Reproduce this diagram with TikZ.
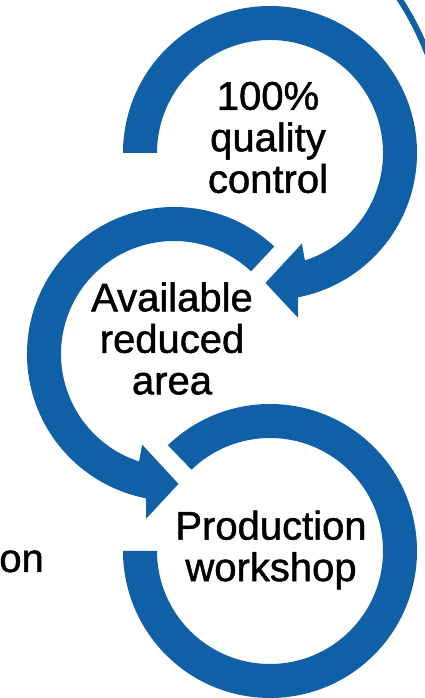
\documentclass[tikz,border=0pt]{standalone}
\usepackage{fontspec}
\setmainfont{Liberation Sans}[FakeBold=1.2]
\usetikzlibrary{calc}
\definecolor{cycleblue}{RGB}{16,96,168}
\tikzset{
    cycle-band/.style={
        fill=cycleblue, draw=none
    },
    cycle-text/.style={
        align=center, inner sep=0pt, font=\fontsize{40}{41.5}\selectfont
    },
}

\begin{document}
\begin{tikzpicture}[x=1pt, y=1pt]

        % FRAME
        \useasboundingbox (0,0) rectangle (425,698);
        \clip (0,0) rectangle (425,698);

        % RING CENTRES
        \coordinate (QC) at (270,545);
        \coordinate (AC) at (174,344);
        \coordinate (PC) at (270,147);
        \coordinate (BC) at (146,535);

        % TEXTS
        \node[cycle-text] (QUALITY)  at (268,560.5) {100\%\\quality\\control};
        \node[cycle-text] (AREA)     at (172,359.5) {Available\\reduced\\area};
        \node[cycle-text] (WORKSHOP) at (271,148)   {Production\\workshop};
        \node[cycle-text, anchor=base east] (LEFTWORD) at (44,126) {on};

        % QUALITY RING, ARROW INTO AREA
        \fill[cycle-band, shift={(QC)}]
            (180:147pt) arc[start angle=180, end angle=-79, radius=147pt]
            -- (-80.4:167pt) -- (-92:130pt) -- (-70.6:96pt) -- (-72:113pt)
            arc[start angle=-72, end angle=180, radius=113pt] -- cycle;

        % AREA RING, ARROW INTO WORKSHOP
        \fill[cycle-band, shift={(AC)}]
            (47:147pt) arc[start angle=47, end angle=259, radius=147pt]
            -- (260.4:167pt) -- (272:130pt) -- (250.6:96pt) -- (252:113pt)
            arc[start angle=252, end angle=47, radius=113pt] -- cycle;

        % WORKSHOP RING
        \fill[cycle-band, shift={(PC)}]
            (134:147pt) arc[start angle=134, end angle=-180, radius=147pt]
            -- (180:113pt)
            arc[start angle=-180, end angle=134, radius=113pt] -- cycle;

        % OUTER RIM, TOP RIGHT
        \draw[cycleblue, line width=6pt, shift={(BC)}]
            (40:302pt) arc[start angle=40, end angle=15, radius=302pt];

\end{tikzpicture}
\end{document}
